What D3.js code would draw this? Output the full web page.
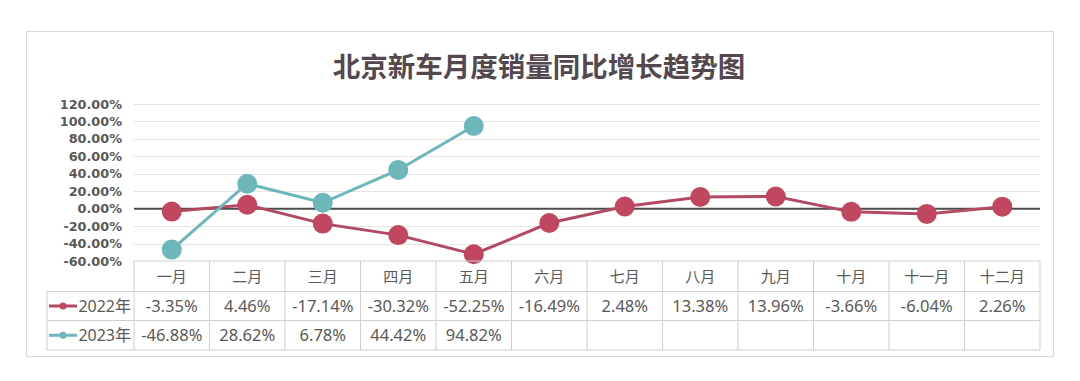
<!DOCTYPE html>
<html><head><meta charset="utf-8">
<script src="https://cdn.jsdelivr.net/npm/d3@7"></script>
<style>body{margin:0;background:#fff}svg{display:block}</style>
</head><body>
<svg id="c" width="1080" height="381"></svg>
<script>
const title = "北京新车月度销量同比增长趋势图";
const months = ["一月","二月","三月","四月","五月","六月","七月","八月","九月","十月","十一月","十二月"];
const seriesNames = ["2022年","2023年"];
const values2022 = [-3.35,4.46,-17.14,-30.32,-52.25,-16.49,2.48,13.38,13.96,-3.66,-6.04,2.26];
const values2023 = [-46.88,28.62,6.78,44.42,94.82];
const yTicks = [-60,-40,-20,0,20,40,60,80,100,120];
const colors = ["#c0475f","#6db6ba"];
const lineColors = ["#b24a63","#6db6ba"];

const svg = d3.select("#c");
const L = 134, R = 1040, T = 104, B = 261;
const x = d3.scaleBand().domain(months).range([L, R]);
const y = d3.scaleLinear().domain([-60, 120]).range([B, T]);

// outer box
svg.append("rect").attr("x",26.5).attr("y",31.5).attr("width",1027).attr("height",325)
  .attr("fill","#fff").attr("stroke","#d9d9d9");

// title
svg.append("text").attr("x",539).attr("y",76.5).attr("text-anchor","middle")
  .attr("font-family","'Noto Sans CJK SC'").attr("font-weight","bold").attr("font-size",27.5)
  .attr("fill","#54484f").text(title);

// gridlines
svg.append("g").selectAll("line").data(yTicks.filter(d=>d!==0 && d!==-60)).join("line")
  .attr("x1",L).attr("x2",R).attr("y1",d=>Math.round(y(d))+0.5).attr("y2",d=>Math.round(y(d))+0.5)
  .attr("stroke","#e6e6df").attr("stroke-width",1);

// y axis
const ya = svg.append("g").attr("transform",`translate(${L},0)`)
  .call(d3.axisLeft(y).tickValues(yTicks).tickSize(0).tickPadding(12).tickFormat(d=>d.toFixed(2)+"%"));
ya.select(".domain").remove();
ya.selectAll("text").attr("font-family","'DejaVu Sans'").attr("font-weight","bold")
  .attr("font-size",12.8).attr("fill","#595959");

// zero line
svg.append("line").attr("x1",L).attr("x2",R).attr("y1",y(0)).attr("y2",y(0))
  .attr("stroke","#4d4d4d").attr("stroke-width",2);

// lines & markers
const cx = m => x(m) + x.bandwidth()/2;
const sets = [values2022, values2023];
sets.forEach((vals,i)=>{
  const pts = vals.map((v,j)=>[cx(months[j]), y(v)]);
  svg.append("path").attr("d",d3.line()(pts)).attr("fill","none")
    .attr("stroke",lineColors[i]).attr("stroke-width",3);
});
sets.forEach((vals,i)=>{
  svg.append("g").selectAll("circle").data(vals).join("circle")
    .attr("cx",(v,j)=>cx(months[j])).attr("cy",v=>y(v)).attr("r",10)
    .attr("fill",colors[i]);
});

// data table
const rowY = [261, 291.5, 320.5, 350];
const legL = 47;
const tg = svg.append("g").attr("stroke","#cfcfcf").attr("stroke-width",1).attr("fill","none");
tg.append("line").attr("x1",L).attr("x2",R).attr("y1",rowY[0]).attr("y2",rowY[0]);
[1,2,3].forEach(k=>tg.append("line").attr("x1",legL).attr("x2",R).attr("y1",rowY[k]).attr("y2",rowY[k]));
const vx = months.map(m=>x(m)).concat([R]);
vx.forEach(v=>tg.append("line").attr("x1",v).attr("x2",v).attr("y1",rowY[0]).attr("y2",rowY[3]));
tg.append("line").attr("x1",legL).attr("x2",legL).attr("y1",rowY[1]).attr("y2",rowY[3]);

const font = "'Noto Sans','Noto Sans CJK SC'";
svg.append("g").selectAll("text").data(months).join("text")
  .attr("x",d=>cx(d)).attr("y",(rowY[0]+rowY[1])/2+5.5).attr("text-anchor","middle")
  .attr("font-family","'Noto Sans CJK SC'").attr("font-size",15).attr("fill","#595959").text(d=>d);

sets.forEach((vals,i)=>{
  const yc = (rowY[i+1]+rowY[i+2])/2 + 6;
  svg.append("g").selectAll("text").data(vals).join("text")
    .attr("x",(v,j)=>cx(months[j])).attr("y",yc).attr("text-anchor","middle")
    .attr("font-family",font).attr("font-size",16.5).attr("fill","#595959")
    .text(v=>v.toFixed(2)+"%");
  const ly = yc - 6;
  svg.append("line").attr("x1",49).attr("x2",77).attr("y1",ly).attr("y2",ly)
    .attr("stroke",lineColors[i]).attr("stroke-width",3);
  svg.append("circle").attr("cx",63).attr("cy",ly).attr("r",3.5).attr("fill",colors[i]);
  svg.append("text").attr("x",L-3).attr("y",yc).attr("text-anchor","end")
    .attr("font-family",font).attr("font-size",16).attr("fill","#595959").text(seriesNames[i]);
});
</script>
</body></html>
